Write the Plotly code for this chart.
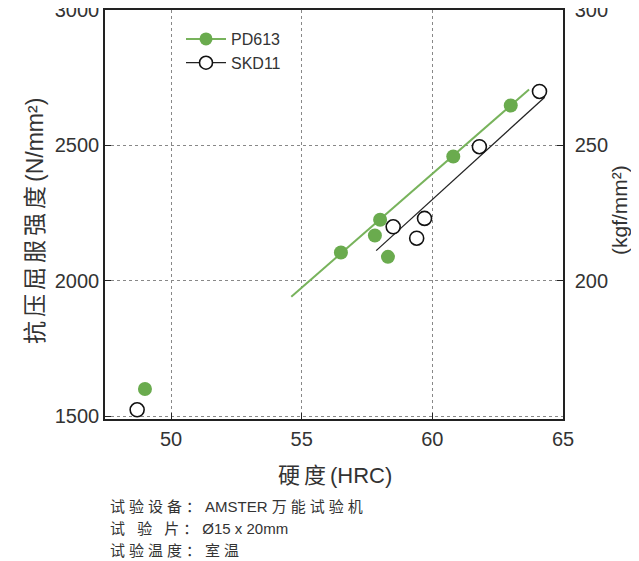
import plotly.graph_objects as go

# Data
pd613_hrc = [49.0, 56.5, 57.8, 58.0, 58.3, 60.8, 63.0]
pd613_ys = [1600, 2104, 2167, 2225, 2088, 2459, 2647]
skd11_hrc = [48.7, 58.5, 59.4, 59.7, 61.8, 64.1]
skd11_ys = [1523, 2199, 2157, 2230, 2495, 2699]
pd613_fit_x = [54.6, 63.7]
pd613_fit_y = [1941, 2706]
skd11_fit_x = [57.85, 64.3]
skd11_fit_y = [2111, 2678]

x_ticks = [50, 55, 60, 65]
y_ticks = [1500, 2000, 2500, 3000]
y2_ticks = [200, 250, 300]
# each note: (label part, value part, label part of value)
note_lines = [
    ["试验设备：", "AMSTER ", "万能试验机"],
    ["试 验 片：", "Ø15 x 20mm", ""],
    ["试验温度：", "", "室温"],
]

GREEN = "#6aab4e"
FONT = "Liberation Sans, Arial"
MIX = "Liberation Sans, Noto Sans CJK SC"

# the page body has an 8px margin; work in screen coordinates and compensate
OFF = 8
W, H = 639 - OFF, 561 - OFF
L, R, T, B = 105 - OFF, 76, 10 - OFF, 142
PW, PH = W - L - R, H - T - B


def px(xs):
    return (xs - OFF - L) / PW


def py(ys):
    return (H - B - (ys - OFF)) / PH


def spaced(s, ls=4):
    return '<span style="letter-spacing:%dpx">%s</span>' % (ls, s) if s else ""


fig = go.Figure()
fig.add_trace(go.Scatter(x=pd613_fit_x, y=pd613_fit_y, mode="lines",
                         line=dict(color="#78b35c", width=2), showlegend=False))
fig.add_trace(go.Scatter(x=skd11_fit_x, y=skd11_fit_y, mode="lines",
                         line=dict(color="#222222", width=1.3), showlegend=False))
fig.add_trace(go.Scatter(x=pd613_hrc, y=pd613_ys, mode="markers",
                         marker=dict(color=GREEN, size=14), showlegend=False))
fig.add_trace(go.Scatter(x=skd11_hrc, y=skd11_ys, mode="markers",
                         marker=dict(color="white", size=14, line=dict(color="#111111", width=1.6)),
                         showlegend=False))
# legend entries
fig.add_trace(go.Scatter(x=[None], y=[None], mode="lines+markers", name="PD613",
                         line=dict(color="#78b35c", width=2), marker=dict(color=GREEN, size=13)))
fig.add_trace(go.Scatter(x=[None], y=[None], mode="lines+markers", name="SKD11",
                         line=dict(color="#222222", width=1.3),
                         marker=dict(color="white", size=13, line=dict(color="#111111", width=1.6))))
# secondary axis carrier
fig.add_trace(go.Scatter(x=[None], y=[None], yaxis="y2", showlegend=False))

axis_common = dict(ticks="inside", ticklen=6, tickcolor="#222", showline=True,
                   linecolor="#222", linewidth=1.5, zeroline=False, automargin=False,
                   ticklabeloverflow="allow")

fig.update_layout(
    width=W, height=H,
    margin=dict(l=L, r=R, t=T, b=B),
    plot_bgcolor="white", paper_bgcolor="white",
    font=dict(family=FONT, size=20, color="#333333"),
    showlegend=True,
    legend=dict(x=px(181), y=py(22), xanchor="left", yanchor="top",
                bgcolor="rgba(0,0,0,0)", font=dict(family=FONT, size=16, color="#333333"),
                tracegroupgap=0, itemwidth=40),
    xaxis=dict(range=[47.47, 65], tickvals=x_ticks, showgrid=True, gridcolor="#888",
               griddash="dot", gridwidth=1, ticklabelstandoff=1, mirror=True, **axis_common),
    yaxis=dict(range=[1489, 3000], tickvals=y_ticks, showgrid=True, gridcolor="#888",
               griddash="dot", gridwidth=1, **axis_common),
    yaxis2=dict(range=[148.9, 300], tickvals=y2_ticks, overlaying="y", side="right",
                showgrid=False, ticklabelstandoff=6, **axis_common),
)

# axis titles
fig.add_annotation(text=spaced("抗压屈服强度") + "(N/mm²)",
                   xref="paper", yref="paper",
                   x=px(35), y=py(221), textangle=-90, showarrow=False,
                   xanchor="center", yanchor="middle",
                   font=dict(family=MIX, size=23, color="#333333"))
fig.add_annotation(text=spaced("硬度") + "(HRC)",
                   xref="paper", yref="paper",
                   x=px(335), y=py(475), showarrow=False,
                   xanchor="center", yanchor="middle",
                   font=dict(family=MIX, size=22, color="#333333"))
fig.add_annotation(text="(kgf/mm²)", xref="paper", yref="paper",
                   x=px(619), y=py(210), textangle=-90, showarrow=False,
                   xanchor="center", yanchor="middle",
                   font=dict(family=FONT, size=21, color="#333333"))

note_y = [506.5, 528.5, 550.5]
for parts, yy in zip(note_lines, note_y):
    text = spaced(parts[0]) + parts[1] + spaced(parts[2])
    fig.add_annotation(text=text, xref="paper", yref="paper", x=px(108), y=py(yy),
                       xanchor="left", yanchor="middle", showarrow=False,
                       font=dict(family=MIX, size=15, color="#333333"))

fig.write_html("out.html")
